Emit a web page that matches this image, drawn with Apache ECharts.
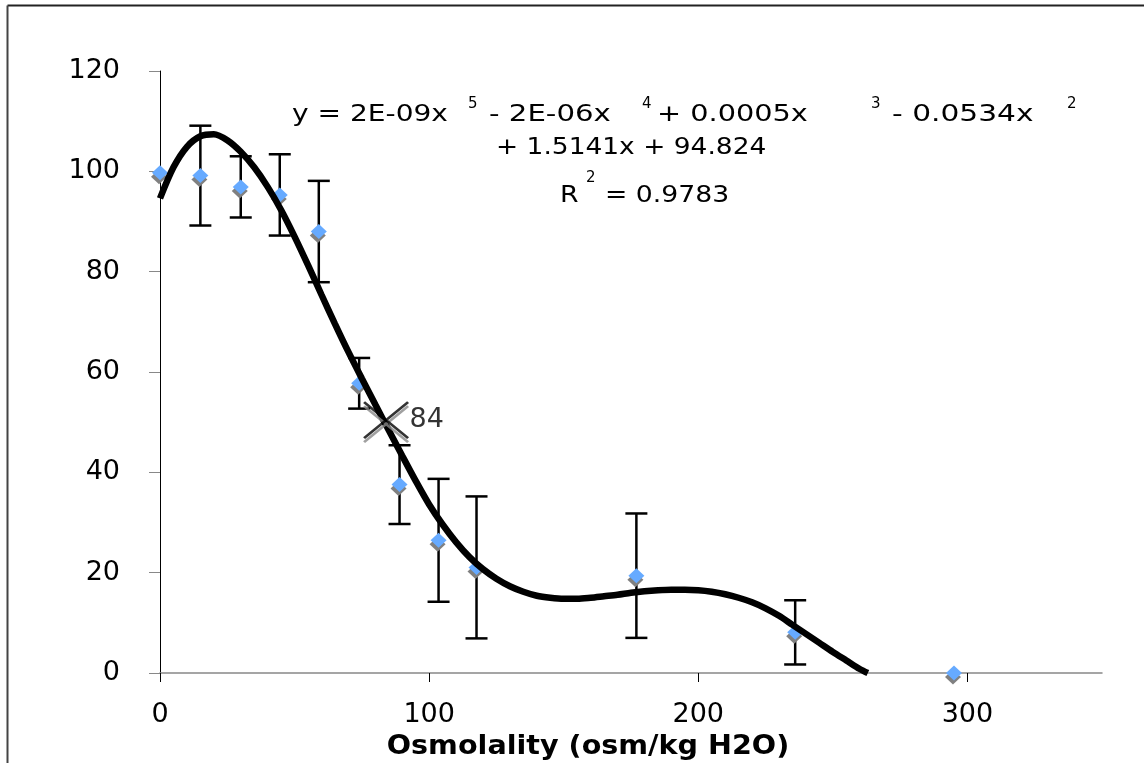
<!DOCTYPE html>
<html>
<head>
<meta charset="utf-8">
<script src="https://cdn.jsdelivr.net/npm/echarts@6/dist/echarts.min.js"></script>
<style>
html,body{margin:0;padding:0;background:#fff;}
#c{width:1144px;height:763px;}
</style>
</head>
<body>
<div id="c"></div>
<script>
// ---- data ----
const osmolality = [0, 15, 30, 44.5, 59, 74, 89, 103.5, 117.6, 177, 236, 295];
const viability  = [99.7, 99.15, 96.9, 95.3, 88.0, 57.75, 37.55, 26.45, 21.05, 19.4, 8.1, 0];
const errorBars  = [0, 9.95, 6.1, 8.1, 10.1, 5.05, 7.85, 12.25, 14.15, 12.4, 6.4, 0];

// trendline, values
const fitX = [0, 5, 10, 15, 20, 25, 30, 35, 40, 45, 50, 55, 60, 65, 70, 75, 80, 85, 90, 95, 100,
              105, 110, 115, 120, 125, 130, 135, 140, 145, 150, 155, 160, 165, 170, 175, 180, 185,
              190, 195, 200, 205, 210, 215, 220, 225, 230, 235, 240, 245, 250, 255, 260, 263];
const fitY = [94.6, 100.8, 104.9, 107.0, 107.4, 106.2, 103.9, 100.8, 96.9, 92.3, 87.0, 81.3, 75.4, 69.6, 64.0, 58.7, 53.5, 48.4, 43.3, 38.3, 33.6,
              29.6, 26.1, 23.1, 20.7, 18.8, 17.3, 16.2, 15.4, 15.0, 14.8, 14.8, 15.0, 15.3, 15.6, 16.0, 16.3, 16.5,
              16.6, 16.6, 16.5, 16.2, 15.7, 15.0, 14.1, 12.9, 11.4, 9.6, 7.8, 6.0, 4.2, 2.5, 0.8, 0];

// 50% marker
const markerX = [84];
const markerY = [50.4];

const xTicks = [0, 100, 200, 300];
const yTicks = [0, 20, 40, 60, 80, 100, 120];
const xAxisTitle = 'Osmolality (osm/kg H2O)';

// trendline equation text
const eqTexts = ['y = 2E-09x', '5', '- 2E-06x', '4', '+ 0.0005x', '3', '- 0.0534x', '2',
                 '+ 1.5141x + 94.824', 'R', '2', '= 0.9783'];
const eqSup   = [false, true, false, true, false, true, false, true, false, false, true, false];
// layout of the equation pieces (left x, middle y, horizontal stretch)
const eqLayout = [
  [292, 115, 1.22], [468, 104, 1.0], [489, 115, 1.27], [642, 104, 1.0], [657, 115, 1.25], [871, 104, 1.0],
  [892, 115, 1.29], [1067, 104, 1.0], [496, 148.5, 1.15], [560, 196.5, 1.16], [586, 178, 1.0], [605, 196.5, 1.16]
];

const FONT = 'DejaVu Sans, Verdana, sans-serif';

const chart = echarts.init(document.getElementById('c'), null, {renderer: 'canvas'});

const errData = osmolality
  .map((x, i) => [x, viability[i] - errorBars[i], viability[i] + errorBars[i], errorBars[i]])
  .filter(d => d[3] > 0);

const graphics = [
  {type: 'line', shape: {x1: 7.5, y1: 5.5, x2: 1144, y2: 5.5}, style: {stroke: '#222', lineWidth: 2}, z: 10},
  {type: 'line', shape: {x1: 7.5, y1: 5.5, x2: 7.5, y2: 763}, style: {stroke: '#444', lineWidth: 2}, z: 10},
  {type: 'text', x: 588, y: 747, scaleX: 1.1,
    style: {text: xAxisTitle, fill: '#000', font: 'bold 26px ' + FONT, align: 'center', verticalAlign: 'middle'}, z: 10}
];
eqTexts.forEach((t, i) => {
  const L = eqLayout[i];
  graphics.push({
    type: 'text', x: L[0], y: L[1], scaleX: L[2],
    style: {text: t, fill: '#000', font: (eqSup[i] ? 15 : 23) + 'px ' + FONT, align: 'left', verticalAlign: 'middle'},
    z: 10
  });
});

chart.setOption({
  animation: false,
  backgroundColor: '#fff',
  grid: {left: 160, right: 42, top: 71, bottom: 90, containLabel: false},
  xAxis: {
    type: 'value', min: 0, max: 350, interval: 100,
    splitLine: {show: false},
    axisLine: {show: true, lineStyle: {color: '#888', width: 1.5}},
    axisTick: {show: true, length: 9, inside: false, customValues: xTicks, lineStyle: {color: '#000', width: 1}},
    axisLabel: {show: true, customValues: xTicks, margin: 28, color: '#000', fontSize: 27, fontFamily: FONT}
  },
  yAxis: {
    type: 'value', min: 0, max: 120, interval: 20,
    splitLine: {show: false},
    axisLine: {show: true, onZero: false, lineStyle: {color: '#000', width: 1}},
    axisTick: {show: true, length: 11, customValues: yTicks, lineStyle: {color: '#888', width: 1}},
    axisLabel: {show: true, customValues: yTicks, margin: 40, color: '#000', fontSize: 27, fontFamily: FONT}
  },
  graphic: graphics,
  series: [
    {
      type: 'custom',
      name: 'error',
      z: 2,
      clip: false,
      data: errData,
      renderItem: function (params, api) {
        const x = api.value(0);
        const lo = api.coord([x, api.value(1)]);
        const hi = api.coord([x, api.value(2)]);
        const half = 11;
        const st = {stroke: '#000', lineWidth: 2.5};
        return {
          type: 'group',
          children: [
            {type: 'line', shape: {x1: lo[0], y1: lo[1], x2: hi[0], y2: hi[1]}, style: st},
            {type: 'line', shape: {x1: lo[0] - half, y1: lo[1], x2: lo[0] + half, y2: lo[1]}, style: st},
            {type: 'line', shape: {x1: hi[0] - half, y1: hi[1], x2: hi[0] + half, y2: hi[1]}, style: st}
          ]
        };
      }
    },
    {
      type: 'scatter',
      name: 'data',
      z: 3,
      symbol: 'diamond',
      symbolSize: [16, 15],
      data: osmolality.map((x, i) => [x, viability[i]]),
      itemStyle: {color: '#66aaff', opacity: 1, shadowColor: '#808080', shadowBlur: 0, shadowOffsetX: -1, shadowOffsetY: 4},
      emphasis: {disabled: true}
    },
    {
      type: 'line',
      name: 'fit',
      z: 4,
      smooth: 0.3,
      showSymbol: false,
      data: fitX.map((x, i) => [x, fitY[i]]),
      lineStyle: {color: '#000', width: 6.5, cap: 'butt'},
      emphasis: {disabled: true}
    },
    {
      type: 'scatter',
      name: 'marker',
      z: 5,
      symbol: 'path://M0,0L44,36M44,0L0,36',
      symbolSize: [44, 36],
      data: markerX.map((x, i) => [x, markerY[i]]),
      itemStyle: {color: 'rgba(0,0,0,0)', borderColor: '#000', borderWidth: 2.5,
        shadowColor: '#888', shadowBlur: 0, shadowOffsetX: 0, shadowOffsetY: 4},
      label: {show: true, position: 'right', distance: 0, color: '#000', fontSize: 27, fontFamily: FONT,
        textBorderWidth: 0, textShadowBlur: 0, textShadowColor: 'transparent',
        formatter: p => String(p.value[0])},
      emphasis: {disabled: true}
    }
  ]
});
</script>
</body>
</html>
